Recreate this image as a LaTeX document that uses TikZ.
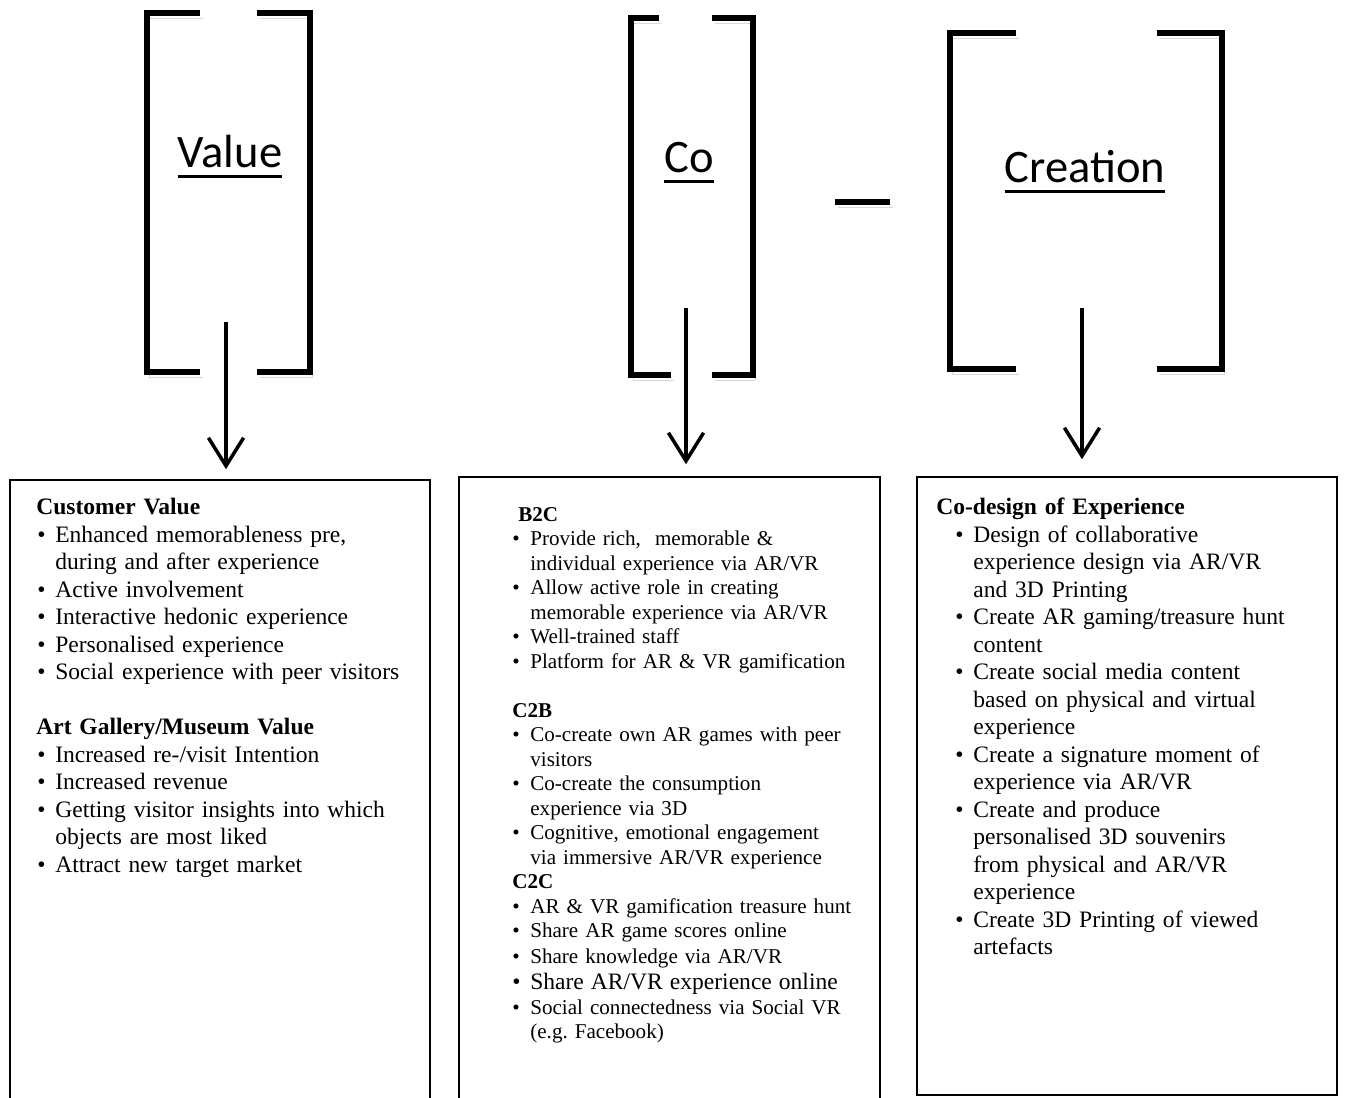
\documentclass[tikz,border=0pt]{standalone}
\usepackage{fontspec}
\setmainfont{Liberation Serif}
\newfontfamily\labelfont{Carlito}
\usetikzlibrary{arrows.meta, positioning, calc}
\frenchspacing
\newsavebox{\ulbox}
\newcommand{\ulword}[1]{\sbox\ulbox{#1}\rlap{\vrule width\wd\ulbox height -4.2pt depth 5.9pt}\usebox\ulbox}
\newlength{\bulletpos}
\newlength{\itempos}
\newcommand{\pitem}[1]{\par\hangindent=\itempos\hangafter=1\noindent\hspace*{\bulletpos}\makebox[\dimexpr\itempos-\bulletpos\relax][l]{\textbullet}#1}
\tikzset{
  bracket/.style={
    line width=3pt, black, line join=miter,
    preaction={draw=black!15, transform canvas={shift={(0.05cm,-0.1cm)}}}
  },
  arr/.style={
    -{Straight Barb[length=16pt,width=20pt,line width=2pt]},
    line width=2pt
  },
  biglabel/.style={font=\labelfont\fontsize{26.5}{30}\selectfont, inner sep=0pt, anchor=base},
  panel/.style={draw=black, line width=1pt, minimum width=8.4cm, inner sep=0pt},
  listtext/.style={align=left, inner sep=0pt, anchor=north west, text width=#1},
}
\begin{document}
\begin{tikzpicture}[x=0.02cm, y=-0.02cm]
  \useasboundingbox (0,0) rectangle (1345,1098);
  \clip (0,0) rectangle (1345,1098);
  % brackets
  \draw[bracket] (200,13) -- (147,13) -- (147,372) -- (200,372);
  \draw[bracket] (257,13) -- (310,13) -- (310,372) -- (257,372);
  \draw[bracket] (659,18) -- (631,18) -- (631,375) -- (671,375);
  \draw[bracket] (712,18) -- (753,18) -- (753,375) -- (712,375);
  \draw[bracket] (1016,33) -- (950,33) -- (950,369) -- (1016,369);
  \draw[bracket] (1157,33) -- (1222,33) -- (1222,369) -- (1157,369);
  \draw[bracket] (835,202) -- (890,202);
  % headings
  \node[biglabel] (value) at (230,168) {\ulword{Value}};
  \node[biglabel] (co) at (689,173) {\ulword{Co}};
  \node[biglabel] (creation) at (1085,183) {\ulword{Creation}};
  % panels
  \node[panel, minimum height=12.6cm] (valuebox) at (220,795) {};
  \node[panel, minimum width=8.42cm, minimum height=12.66cm] (cobox) at (669.5,793.5) {};
  \node[panel, minimum height=12.36cm] (creationbox) at (1127,786) {};
  % arrows
  \coordinate (valuetail) at (226,322);
  \coordinate (cotail) at (686,308);
  \coordinate (creationtail) at (1082,308);
  \draw[arr, shorten >=0.2cm] (valuetail) -- (valuetail |- valuebox.north);
  \draw[arr, shorten >=0.24cm] (cotail) -- (cotail |- cobox.north);
  \draw[arr, shorten >=0.34cm] (creationtail) -- (creationtail |- creationbox.north);
  % panel texts
  \node[listtext=7.7cm, font=\fontsize{13.4}{15.65}\selectfont] (valuetext) at (36,498)
    {\setlength{\bulletpos}{0.02cm}\setlength{\itempos}{0.38cm}%
     \textbf{Customer Value}
     \pitem{Enhanced memorableness pre,\newline during and after experience}
     \pitem{Active involvement}
     \pitem{Interactive hedonic experience}
     \pitem{Personalised experience}
     \pitem{Social experience with peer visitors}
     \par\vspace{\baselineskip}
     \noindent\textbf{Art Gallery/Museum Value}
     \pitem{Increased re-/visit Intention}
     \pitem{Increased revenue}
     \pitem{Getting visitor insights into which\newline objects are most liked}
     \pitem{Attract new target market}\par};
  \node[listtext=7.2cm, font=\fontsize{12}{13.94}\selectfont] (cotext) at (512,507)
    {\setlength{\bulletpos}{0cm}\setlength{\itempos}{0.36cm}%
     \hspace*{0.12cm}\textbf{B2C}
     \pitem{Provide rich,\ \ memorable \&\newline individual experience via AR/VR}
     \pitem{Allow active role in creating\newline memorable experience via AR/VR}
     \pitem{Well-trained staff}
     \pitem{Platform for AR \& VR gamification}
     \par\vspace{\baselineskip}
     \noindent\textbf{C2B}
     \pitem{Co-create own AR games with peer\newline visitors}
     \pitem{Co-create the consumption\newline experience via 3D}
     \pitem{Cognitive, emotional engagement\newline via immersive AR/VR experience}
     \par\noindent\textbf{C2C}
     \pitem{AR \& VR gamification treasure hunt}
     \pitem{Share AR game scores online}
     \pitem{Share knowledge via AR/VR}
     {\fontsize{13.4}{14.8}\selectfont\pitem{Share AR/VR experience online}\par}
     \pitem{Social connectedness via Social VR\newline (e.g. Facebook)}\par};
  \node[listtext=7.6cm, font=\fontsize{13.4}{15.65}\selectfont] (creationtext) at (936,498)
    {\setlength{\bulletpos}{0.38cm}\setlength{\itempos}{0.74cm}%
     \textbf{Co-design of Experience}
     \pitem{Design of collaborative\newline experience design via AR/VR\newline and 3D Printing}
     \pitem{Create AR gaming/treasure hunt\newline content}
     \pitem{Create social media content\newline based on physical and virtual\newline experience}
     \pitem{Create a signature moment of\newline experience via AR/VR}
     \pitem{Create and produce\newline personalised 3D souvenirs\newline from physical and AR/VR\newline experience}
     \pitem{Create 3D Printing of viewed\newline artefacts}\par};
\end{tikzpicture}
\end{document}
